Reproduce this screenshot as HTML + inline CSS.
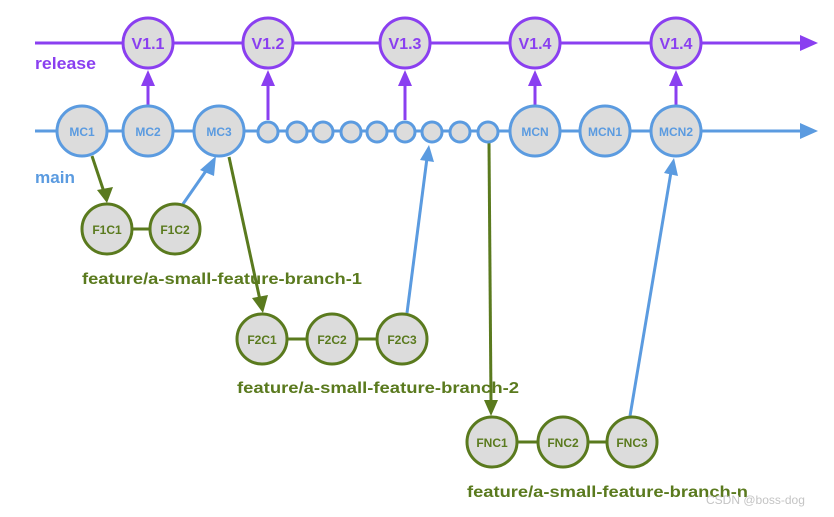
<!DOCTYPE html>
<html><head><meta charset="utf-8"><style>
html,body{margin:0;padding:0;background:#fff;width:834px;height:517px;overflow:hidden}
text{font-family:"Liberation Sans",Arial,sans-serif;font-weight:bold}
</style></head><body>
<svg width="834" height="517" viewBox="0 0 834 517" xmlns="http://www.w3.org/2000/svg">
<g stroke-width="3" fill="none">
<line x1="35" y1="43" x2="802" y2="43" stroke="#8a3ff0"/>
<polygon points="800,35 818,43 800,51" fill="#8a3ff0" stroke="none"/>
<line x1="35" y1="131" x2="802" y2="131" stroke="#5b9be0"/>
<polygon points="800,123 818,131 800,139" fill="#5b9be0" stroke="none"/>
<g stroke="#8a3ff0">
<line x1="148" y1="105" x2="148" y2="82"/>
<line x1="268" y1="120" x2="268" y2="82"/>
<line x1="405" y1="120" x2="405" y2="82"/>
<line x1="535" y1="105" x2="535" y2="82"/>
<line x1="676" y1="105" x2="676" y2="82"/>
</g>
<g fill="#8a3ff0" stroke="none">
<polygon points="141,86 155,86 148,70"/>
<polygon points="261,86 275,86 268,70"/>
<polygon points="398,86 412,86 405,70"/>
<polygon points="528,86 542,86 535,70"/>
<polygon points="669,86 683,86 676,70"/>
</g>
<g stroke="#5a7a1e">
<line x1="92" y1="156" x2="104" y2="192"/>
<line x1="229" y1="157" x2="260" y2="300"/>
<line x1="489" y1="143" x2="491" y2="403"/>
<line x1="132" y1="229" x2="149" y2="229"/>
<line x1="288" y1="339" x2="307" y2="339"/>
<line x1="357" y1="339" x2="377" y2="339"/>
<line x1="518" y1="442" x2="537" y2="442"/>
<line x1="589" y1="442" x2="606" y2="442"/>
</g>
<g fill="#5a7a1e" stroke="none">
<polygon points="97,190 113,187 107,203"/>
<polygon points="252,298 268,295 263,313"/>
<polygon points="484,400 498,400 491,416"/>
</g>
<g stroke="#5b9be0">
<line x1="183" y1="204" x2="208" y2="168"/>
<line x1="407" y1="313" x2="427" y2="158"/>
<line x1="630" y1="416" x2="671" y2="172"/>
</g>
<g fill="#5b9be0" stroke="none">
<polygon points="200,170 214,176 216,156"/>
<polygon points="420,160 434,162 429,145"/>
<polygon points="664,173 678,176 674,158"/>
</g>
</g>
<g fill="#dcdcdc" stroke="#8a3ff0" stroke-width="3">
<circle cx="148" cy="43" r="25"/><circle cx="268" cy="43" r="25"/><circle cx="405" cy="43" r="25"/><circle cx="535" cy="43" r="25"/><circle cx="676" cy="43" r="25"/>
</g>
<g fill="#8a3ff0" font-size="16" text-anchor="middle">
<text x="148" y="49">V1.1</text><text x="268" y="49">V1.2</text><text x="405" y="49">V1.3</text><text x="535" y="49">V1.4</text><text x="676" y="49">V1.4</text>
</g>
<g fill="#dcdcdc" stroke="#5b9be0" stroke-width="3">
<circle cx="82" cy="131" r="25"/><circle cx="148" cy="131" r="25"/><circle cx="219" cy="131" r="25"/>
<circle cx="535" cy="131" r="25"/><circle cx="605" cy="131" r="25"/><circle cx="676" cy="131" r="25"/>
<circle cx="268" cy="132" r="10"/><circle cx="297" cy="132" r="10"/><circle cx="323" cy="132" r="10"/><circle cx="351" cy="132" r="10"/><circle cx="377" cy="132" r="10"/><circle cx="405" cy="132" r="10"/><circle cx="432" cy="132" r="10"/><circle cx="460" cy="132" r="10"/><circle cx="488" cy="132" r="10"/>
</g>
<g fill="#5b9be0" font-size="12" text-anchor="middle">
<text x="82" y="136">MC1</text><text x="148" y="136">MC2</text><text x="219" y="136">MC3</text>
<text x="535" y="136">MCN</text><text x="605" y="136">MCN1</text><text x="676" y="136">MCN2</text>
</g>
<g fill="#dcdcdc" stroke="#5a7a1e" stroke-width="3">
<circle cx="107" cy="229" r="25"/><circle cx="175" cy="229" r="25"/>
<circle cx="262" cy="339" r="25"/><circle cx="332" cy="339" r="25"/><circle cx="402" cy="339" r="25"/>
<circle cx="492" cy="442" r="25"/><circle cx="563" cy="442" r="25"/><circle cx="632" cy="442" r="25"/>
</g>
<g fill="#5a7a1e" font-size="12" text-anchor="middle">
<text x="107" y="234">F1C1</text><text x="175" y="234">F1C2</text>
<text x="262" y="344">F2C1</text><text x="332" y="344">F2C2</text><text x="402" y="344">F2C3</text>
<text x="492" y="447">FNC1</text><text x="563" y="447">FNC2</text><text x="632" y="447">FNC3</text>
</g>
<text x="35" y="69" fill="#8a3ff0" font-size="17" textLength="61" lengthAdjust="spacingAndGlyphs">release</text>
<text x="35" y="183" fill="#5b9be0" font-size="17" textLength="40" lengthAdjust="spacingAndGlyphs">main</text>
<g fill="#5a7a1e" font-size="16">
<text x="82" y="284" textLength="280" lengthAdjust="spacingAndGlyphs">feature/a-small-feature-branch-1</text>
<text x="237" y="393" textLength="282" lengthAdjust="spacingAndGlyphs">feature/a-small-feature-branch-2</text>
<text x="467" y="497" textLength="281" lengthAdjust="spacingAndGlyphs">feature/a-small-feature-branch-n</text>
</g>
<text x="706" y="504" fill="#c4c4c4" font-size="12" style="font-weight:normal">CSDN @boss-dog</text>
</svg>
</body></html>
